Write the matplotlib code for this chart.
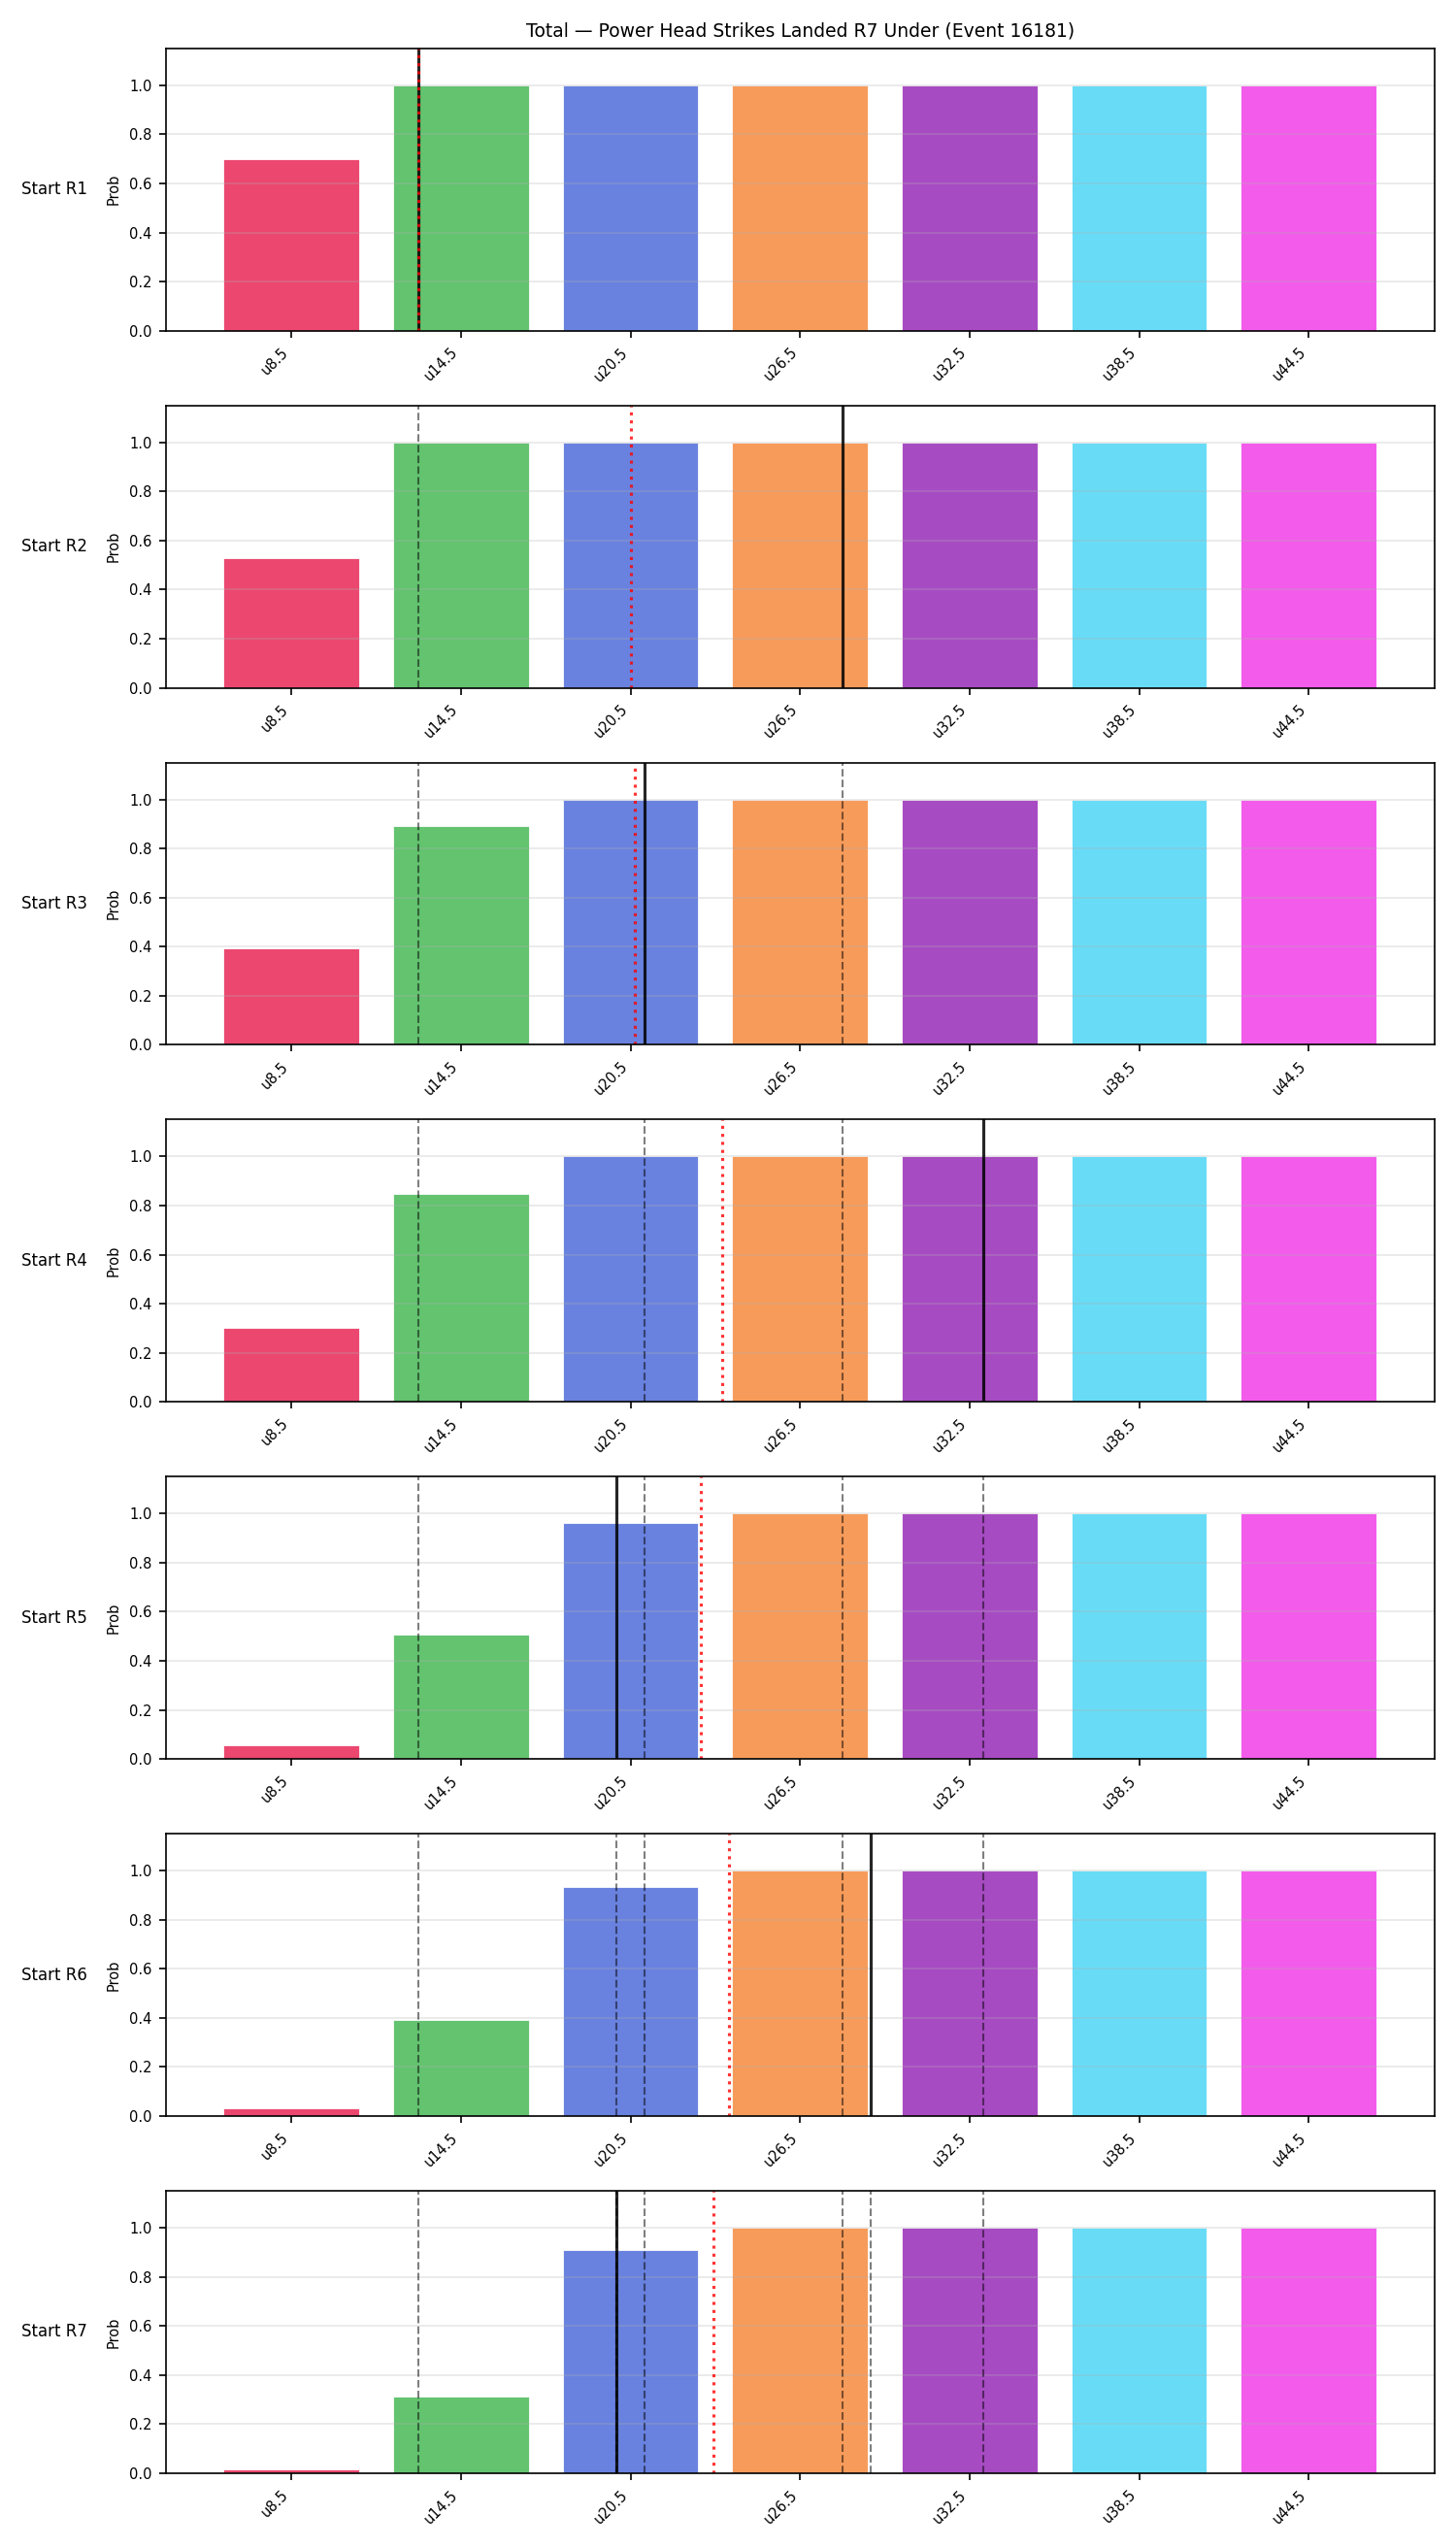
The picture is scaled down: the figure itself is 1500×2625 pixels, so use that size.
import matplotlib
matplotlib.use("Agg")
import matplotlib.pyplot as plt
import numpy as np

lines = [8.5, 14.5, 20.5, 26.5, 32.5, 38.5, 44.5]
labels = ["u8.5", "u14.5", "u20.5", "u26.5", "u32.5", "u38.5", "u44.5"]
rounds = ["Start R1", "Start R2", "Start R3", "Start R4", "Start R5", "Start R6", "Start R7"]

# P(total under line) at the start of each round
probs_r1 = [0.70, 1.0, 1.0, 1.0, 1.0, 1.0, 1.0]
probs_r2 = [0.53, 1.0, 1.0, 1.0, 1.0, 1.0, 1.0]
probs_r3 = [0.395, 0.893, 1.0, 1.0, 1.0, 1.0, 1.0]
probs_r4 = [0.30, 0.847, 1.0, 1.0, 1.0, 1.0, 1.0]
probs_r5 = [0.055, 0.506, 0.961, 1.0, 1.0, 1.0, 1.0]
probs_r6 = [0.03, 0.393, 0.933, 1.0, 1.0, 1.0, 1.0]
probs_r7 = [0.015, 0.312, 0.910, 1.0, 1.0, 1.0, 1.0]
all_probs = [probs_r1, probs_r2, probs_r3, probs_r4, probs_r5, probs_r6, probs_r7]

# projected total per round (solid line), running mean shown dotted
projected = [13, 28, 21, 33, 20, 29, 20]

colors = ['#e6194b', '#3cb44b', '#4363d8', '#f58231', '#911eb4', '#42d4f4', '#f032e6']

def to_pos(v):
    return np.interp(v, lines, np.arange(len(lines)))

fig, axes = plt.subplots(len(rounds), 1, figsize=(10, 17.5), dpi=150)
x = np.arange(len(labels))

for i, ax in enumerate(axes):
    ax.bar(x, all_probs[i], color=colors, alpha=0.8, edgecolor='white', linewidth=0.5)
    ax.set_ylim(0, 1.15)
    ax.set_xticks(x)
    ax.set_xticklabels(labels, rotation=45, ha='right', fontsize=7)
    ax.tick_params(axis='y', labelsize=7)
    ax.set_ylabel("Prob", fontsize=7)
    ax.grid(axis='y', alpha=0.3)
    ax.text(-0.062, 0.5, rounds[i], transform=ax.transAxes, ha='right', va='center', fontsize=8)

    for prev in projected[:i]:
        ax.axvline(to_pos(prev), color='k', linestyle='--', linewidth=1, alpha=0.5)
    ax.axvline(to_pos(projected[i]), color='k', linewidth=1.5, alpha=0.85)
    ax.axvline(to_pos(np.mean(projected[:i + 1])), color='red', linestyle=':', linewidth=1.5, alpha=0.8)

axes[0].set_title("Total \u2014 Power Head Strikes Landed R7 Under (Event 16181)", fontsize=9)

plt.subplots_adjust(left=0.114, right=0.985, top=0.981, bottom=0.0294, hspace=0.265)
plt.savefig("out.png")
